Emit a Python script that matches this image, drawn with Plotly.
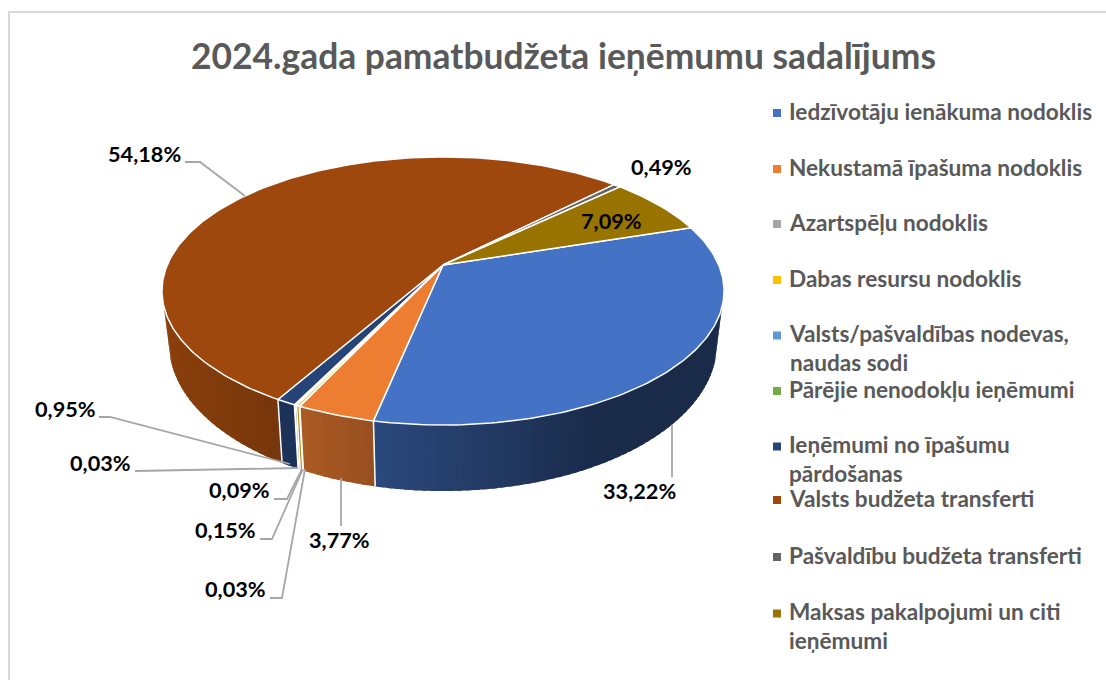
import numpy as np
import plotly.graph_objects as go

TITLE = "2024.gada pamatbudžeta ieņēmumu sadalījums"
categories = ["Iedzīvotāju ienākuma nodoklis", "Nekustamā īpašuma nodoklis", "Azartspēļu nodoklis",
              "Dabas resursu nodoklis", "Valsts/pašvaldības nodevas,<br>naudas sodi", "Pārējie nenodokļu ieņēmumi",
              "Ieņēmumi no īpašumu<br>pārdošanas", "Valsts budžeta transferti", "Pašvaldību budžeta transferti",
              "Maksas pakalpojumi un citi<br>ieņēmumi"]
values = [33.22, 3.77, 0.03, 0.15, 0.09, 0.03, 0.95, 54.18, 0.49, 7.09]
colors = ["#4472c4", "#ed7d31", "#a5a5a5", "#ffc000", "#5b9bd5", "#70ad47", "#264478", "#9e480e", "#636363", "#997300"]

# layout (pixel canvas)
CX, CY = 443, 265
B, A, K = 275.7, 129, 0.194
START = 72.2
legend_y = [113, 169, 224, 280, 349, 391, 460, 500, 557, 627]
label_xy = [(639, 492), (339, 541), (235, 590), (225, 531), (239, 491), (100, 464), (65, 410), (144, 155), (661, 168), (611, 222)]
# leader lines: anchor on the pie, then elbow points (None = no leader)
leader_path = [[(672, 425), (672, 477)], [(341, 478), (341, 526)], [(305, 469), (282, 598), (270, 598)],
               [(303, 469), (272, 539), (260, 539)], [(302, 469), (287, 499), (274, 499)],
               [(298, 468), (135, 471)], [(290, 464), (110, 417), (99, 417)], [(245, 196), (200, 162), (185, 162)],
               None, None]
FONT = "Lato, 'Open Sans', sans-serif"


def top(deg):
    t = np.radians(90 - np.asarray(deg, float))
    c, s = np.cos(t), np.sin(t)
    w = 1 + K * s
    return B * c / w, -A * s / w, s


def rim_top(deg):
    X, Y, _ = top(deg)
    return CX + X, CY + Y


def rim_bottom(deg):
    X, Y, _ = top(deg)
    return CX + 0.975 * X, CY + 1.1 * Y + 50


def shade(hexcol, x):
    f = float(np.clip(0.87 - (x - 170) * 0.00114, 0.38, 0.87))
    r, g, b = (int(hexcol[i:i + 2], 16) for i in (1, 3, 5))
    return f"rgb({r * f:.0f},{g * f:.0f},{b * f:.0f})"


fig = go.Figure()
total = sum(values)
edges = START + np.cumsum([0] + values) / total * 360
S_LIMIT = -0.30

# side walls: overlapping strips drawn one over the next, so no seams show
for i, col in enumerate(colors):
    a0, a1 = edges[i], edges[i + 1]
    n = max(2, int((a1 - a0) / 1.5) + 1)
    ang = np.linspace(a0, a1, n)
    for p, q in zip(ang[:-1], ang[1:]):
        seg = np.linspace(p, min(q + 1.0, a1), 5)
        _, _, s = top(seg)
        seg = seg[s < S_LIMIT]
        if len(seg) < 2:
            continue
        xt, yt = rim_top(seg)
        xb, yb = rim_bottom(seg)
        c = shade(col, float(rim_top((p + q) / 2)[0]))
        fig.add_trace(go.Scatter(x=np.r_[xt, xb[::-1], xt[0]], y=np.r_[yt, yb[::-1], yt[0]], mode="lines",
                                 fill="toself", fillcolor=c, line=dict(width=0),
                                 hoverinfo="skip", showlegend=False, name=categories[i].replace("<br>", " ")))
# wall separators
for e in edges[:-1]:
    if top(e)[2] < S_LIMIT:
        xt, yt = rim_top(e)
        xb, yb = rim_bottom(e)
        fig.add_trace(go.Scatter(x=[xt, xb], y=[yt, yb], mode="lines", line=dict(color="white", width=1.5),
                                 hoverinfo="skip", showlegend=False))

# top faces
for i, col in enumerate(colors):
    ang = np.linspace(edges[i], edges[i + 1], max(3, int(values[i] * 3.6) + 2))
    x, y = rim_top(ang)
    fig.add_trace(go.Scatter(x=np.r_[CX, x, CX], y=np.r_[CY, y, CY], mode="lines", fill="toself", fillcolor=col,
                             line=dict(color="white", width=1.5), hoverinfo="text",
                             text=categories[i].replace("<br>", " "), showlegend=False,
                             name=categories[i].replace("<br>", " ")))

# leader lines
for path in leader_path:
    if path is None:
        continue
    fig.add_trace(go.Scatter(x=[p[0] for p in path], y=[p[1] for p in path], mode="lines",
                             line=dict(color="#a6a6a6", width=1.8), hoverinfo="skip", showlegend=False))

# legend squares
fig.add_trace(go.Scatter(x=[777] * len(colors),
                         y=[ly if "<br>" not in c else ly - 13.5 for ly, c in zip(legend_y, categories)],
                         mode="markers", marker=dict(symbol="square", size=8, color=colors), hoverinfo="skip",
                         showlegend=False))

anns = [dict(x=563, y=55, text=f"<b>{TITLE}</b>", showarrow=False, xanchor="center", yanchor="middle",
             font=dict(family=FONT, size=35.4, color="#595959"))]
for c, ly in zip(categories, legend_y):
    anns.append(dict(x=786.5, y=ly - 1.5, text=f"<b>{c}</b>", showarrow=False, xanchor="left", yanchor="middle",
                     align="left", font=dict(family=FONT, size=22.6, color="#595959")))
for v, (lx, ly) in zip(values, label_xy):
    anns.append(dict(x=lx, y=ly - 1.5, text=f"<b>{v:.2f}%</b>".replace(".", ","), showarrow=False, xanchor="center",
                     yanchor="middle", font=dict(family=FONT, size=21.7, color="black")))

fig.update_layout(
    width=1106, height=680, margin=dict(l=0, r=0, t=0, b=0), autosize=False,
    paper_bgcolor="white", plot_bgcolor="white", annotations=anns, showlegend=False,
    xaxis=dict(range=[0, 1106], visible=False, fixedrange=True),
    yaxis=dict(range=[680, 0], visible=False, fixedrange=True),
    shapes=[dict(type="rect", x0=9, y0=12, x1=1130, y1=700, line=dict(color="#d9d9d9", width=2), layer="below")],
)
fig.write_html("out.html", config={"displayModeBar": False},
               post_script="document.body.style.margin='0';document.body.style.overflow='hidden';")
